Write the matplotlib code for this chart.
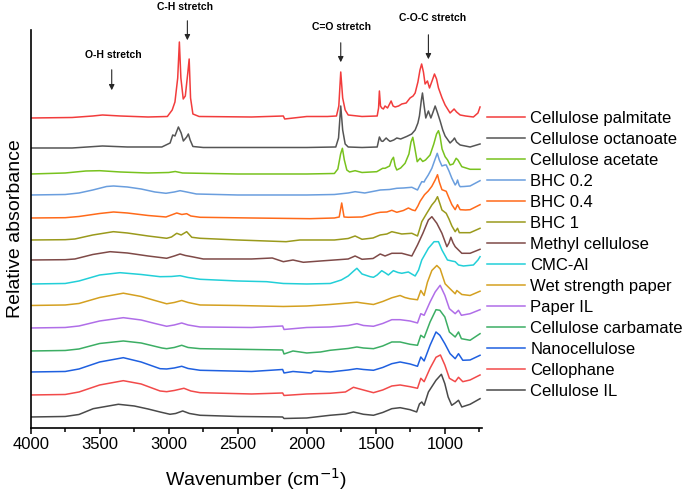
import matplotlib.pyplot as plt
from matplotlib.ticker import MultipleLocator

plt.rcParams['font.family'] = ['Liberation Sans', 'DejaVu Sans']

# FTIR spectra: (wavenumber cm-1, absorbance above own baseline, a.u.)
cellulose_palmitate = [(4000, 0), (3700, 0.5), (3550, 2), (3480, 3), (3350, 2), (3150, 1), (3010, 1.5),
    (2975, 8), (2955, 16), (2935, 40), (2923, 76), (2912, 40), (2895, 19), (2880, 22), (2862, 45),
    (2852, 59), (2842, 20), (2825, 4), (2780, 1.5), (2400, 1), (2170, 2), (2160, -1), (2000, 1.5),
    (1850, 1.5), (1785, 2), (1768, 12), (1754, 46), (1740, 20), (1722, 8), (1700, 3), (1600, 1.5),
    (1490, 2), (1480, 10), (1474, 27), (1466, 12), (1457, 10), (1445, 9), (1433, 12), (1415, 10),
    (1389, 17), (1375, 12), (1360, 11), (1335, 12), (1312, 14), (1280, 15), (1252, 20), (1230, 22),
    (1215, 25), (1195, 36), (1180, 48), (1168, 54), (1155, 46), (1143, 34), (1126, 37), (1111, 30),
    (1090, 38), (1075, 44), (1060, 39), (1046, 30), (1020, 20), (998, 13), (962, 5), (940, 8),
    (933, 9), (915, 6), (889, 3), (850, 2), (793, 1), (760, 5), (745, 11)]
cellulose_octanoate = [(4000, 0), (3700, 0), (3480, 2), (3300, 1), (3050, 1), (2990, 5), (2971, 13),
    (2955, 12), (2930, 21), (2910, 15), (2894, 7), (2870, 11), (2858, 14), (2845, 8), (2825, 1.5),
    (2750, 0.5), (2000, 0.5), (1790, 1), (1770, 10), (1754, 42), (1740, 18), (1722, 4), (1700, 1),
    (1600, 0.5), (1490, 1), (1474, 11), (1460, 7), (1449, 6.6), (1425, 10), (1410, 8), (1397, 6.6),
    (1370, 8), (1348, 10), (1320, 9), (1275, 11.6), (1240, 14), (1215, 18), (1195, 25), (1184, 32),
    (1170, 48), (1162, 55), (1150, 42), (1138, 30), (1119, 37), (1101, 30), (1085, 36), (1070, 42),
    (1055, 36), (1034, 27), (1015, 18), (998, 12), (962, 5), (940, 8), (930, 10), (915, 6),
    (889, 3), (817, 1), (745, 4)]
cellulose_acetate = [(4000, 0), (3750, 1), (3600, 3), (3500, 3.3), (3350, 2), (3150, 1), (3000, 1.5),
    (2953, 2.5), (2900, 1), (2500, 0), (2000, 0), (1800, 0.5), (1775, 5), (1755, 20), (1742, 25.7),
    (1728, 14), (1710, 4), (1690, 2), (1650, 3.3), (1600, 1.5), (1493, 2.3), (1450, 5.7), (1433, 5.7),
    (1400, 8), (1385, 14), (1372, 16.7), (1360, 8), (1348, 4), (1320, 6), (1288, 10.7), (1260, 20),
    (1245, 32), (1232, 36.7), (1220, 28), (1200, 12.3), (1179, 15.7), (1160, 12.5), (1140, 14),
    (1107, 19), (1080, 30), (1060, 40), (1046, 43.3), (1035, 38), (1020, 25), (998, 17.3), (980, 14),
    (962, 9), (940, 10), (918, 15.7), (905, 14), (877, 7.3), (817, 4.7), (745, 4.7)]
bhc_02 = [(4000, 0), (3750, 0.5), (3650, 2), (3550, 5), (3450, 8.5), (3400, 9), (3300, 8), (3200, 6),
    (3100, 3), (3020, 1.7), (2960, 3), (2918, 4.3), (2870, 3), (2800, 1), (2500, 0), (2000, 0),
    (1800, 0.5), (1700, 2), (1650, 3.3), (1580, 2), (1493, 4.3), (1468, 5), (1400, 5.5), (1348, 6.7),
    (1300, 7), (1239, 7.7), (1198, 5), (1180, 10), (1167, 13.3), (1150, 13), (1143, 15), (1120, 20),
    (1094, 26.7), (1070, 36), (1055, 41.7), (1040, 35), (1021, 29), (1000, 30), (990, 30), (970, 24),
    (949, 16.7), (925, 10), (915, 12), (908, 15), (897, 10), (889, 8.3), (860, 8.5), (817, 9), (745, 14.3)]
bhc_04 = [(4000, 0), (3750, 0.3), (3650, 1.5), (3500, 4.5), (3400, 6), (3300, 5), (3150, 2.5),
    (3020, 1), (2942, 5), (2905, 3.5), (2870, 4.3), (2840, 2), (2773, 0.7), (2400, 0), (2100, -0.5),
    (1977, -0.7), (1800, 0), (1765, 1), (1747, 15), (1730, 1), (1700, 0.7), (1600, 1), (1493, 5),
    (1468, 5.7), (1420, 6), (1384, 7.7), (1348, 5.7), (1300, 7.5), (1264, 10), (1235, 8), (1215, 7.3),
    (1195, 12), (1179, 16.7), (1147, 23.3), (1120, 27), (1094, 31.7), (1070, 38), (1053, 43.3),
    (1040, 36), (1021, 28.3), (990, 26.7), (970, 20), (949, 13.3), (925, 8.3), (908, 13.3),
    (889, 8.3), (850, 8), (817, 8.3), (745, 13.3)]
bhc_1 = [(4000, 0), (3750, 0.3), (3680, 1), (3550, 5), (3401, 8.3), (3300, 7), (3150, 4), (3015, 1.7),
    (2980, 3), (2942, 6.7), (2910, 5), (2870, 8.3), (2833, 2.7), (2773, 1.7), (2500, 0), (2150, -1.7),
    (2050, 0), (1800, 0), (1700, 1.5), (1650, 4), (1600, 0.7), (1520, 2), (1468, 5), (1420, 6),
    (1384, 8.3), (1312, 6), (1239, 6.7), (1198, 4), (1180, 12), (1167, 18.3), (1131, 26.7),
    (1094, 35), (1070, 39), (1053, 43.3), (1035, 36), (1021, 30), (990, 26.7), (970, 21), (949, 14),
    (925, 8.3), (908, 11.7), (895, 7.3), (817, 7.3), (745, 11.7)]
methyl_cellulose = [(4000, 0), (3750, 0.3), (3680, 1), (3550, 5.5), (3425, 8.3), (3300, 7), (3150, 4),
    (3015, 1.7), (2960, 4), (2918, 6), (2880, 4.5), (2833, 3.3), (2750, 1), (2400, 1), (2250, 2),
    (2170, -1.7), (2100, 0), (2025, -2.3), (1900, -1), (1800, 0), (1700, 1), (1650, 4), (1600, 0.7),
    (1520, 1.5), (1468, 6), (1433, 4), (1384, 6.7), (1312, 6.7), (1239, 4), (1198, 15), (1159, 26.7),
    (1119, 40), (1094, 43.3), (1058, 36.7), (1021, 26.7), (985, 13.3), (970, 17), (956, 22.7),
    (940, 17), (925, 13.3), (877, 6.7), (817, 6.7), (745, 10.7)]
cmc_al = [(4000, 0), (3750, 0.5), (3650, 3), (3500, 9), (3353, 11.3), (3200, 9.5), (3063, 7.3),
    (2980, 7.5), (2918, 8.3), (2860, 6.5), (2773, 4.7), (2500, 3), (2290, 2.3), (2170, 0.5),
    (2000, 0), (1830, 0.5), (1750, 4), (1700, 8), (1660, 13), (1637, 15.7), (1600, 10), (1541, 7.3),
    (1517, 6.7), (1490, 9), (1457, 13.3), (1430, 11), (1409, 9), (1373, 13.3), (1340, 11.5),
    (1312, 10.7), (1264, 12), (1240, 10), (1215, 8), (1190, 14), (1167, 24), (1119, 35.7),
    (1078, 42.3), (1046, 42.3), (1021, 34), (981, 24), (950, 23), (925, 22.3), (901, 19), (865, 18),
    (793, 19), (760, 24), (745, 27.3)]
wet_strength_paper = [(4000, 0), (3750, 0.5), (3650, 2), (3500, 8), (3329, 12.3), (3200, 9), (3100, 5),
    (3015, 1.7), (2960, 3), (2906, 5), (2860, 3), (2773, 0.5), (2500, 0), (2170, -1), (2000, -0.5),
    (1831, 1), (1700, 2.5), (1637, 3.3), (1600, 2.5), (1517, 1), (1450, 4), (1384, 7.7), (1324, 10),
    (1290, 8), (1252, 6.7), (1198, 5.7), (1174, 15), (1150, 10), (1126, 23.3), (1094, 35), (1058, 40),
    (1034, 36.7), (998, 21.7), (962, 16.7), (925, 11.7), (913, 15), (877, 11), (817, 10), (745, 14.3)]
paper_il = [(4000, 0), (3750, 0.5), (3650, 2), (3500, 7), (3329, 10.3), (3200, 8), (3100, 4.5),
    (3015, 1.7), (2960, 3), (2906, 5), (2860, 3), (2773, 1), (2400, 0.5), (2175, 2), (2165, -1.5),
    (2000, 0.5), (1831, 1), (1700, 2.5), (1637, 4.3), (1590, 2.5), (1517, 1.7), (1450, 4.5),
    (1384, 8.3), (1324, 8.3), (1252, 7), (1198, 5), (1174, 14.3), (1150, 12.7), (1107, 26), (1070, 36),
    (1034, 42.7), (1000, 32.7), (967, 19.3), (925, 14.3), (901, 17.7), (880, 12.7), (817, 14.3), (745, 18.3)]
cellulose_carbamate = [(4000, 0), (3750, 0.5), (3650, 2), (3500, 7.5), (3329, 10), (3200, 8), (3050, 3),
    (3015, 2.3), (2960, 3.5), (2906, 5.7), (2860, 3.5), (2773, 2.3), (2400, 1.5), (2175, 1), (2165, -3),
    (2100, 0), (2000, -2), (1900, -1), (1831, 0.7), (1700, 2.5), (1637, 4), (1590, 3), (1517, 2.3),
    (1450, 5), (1384, 9), (1324, 9), (1252, 6.7), (1198, 5.7), (1174, 15.7), (1150, 13.3), (1107, 29),
    (1064, 41.3), (1036, 40.7), (1000, 34), (967, 19), (925, 14), (901, 19), (880, 12.3), (817, 10.7),
    (745, 17.3)]
nanocellulose = [(4000, 0), (3750, 0.5), (3650, 3), (3500, 10), (3329, 14.3), (3200, 10), (3063, 3.3),
    (3015, 3), (2960, 4), (2906, 5.7), (2860, 3.5), (2773, 1.7), (2400, 0.5), (2175, 2.5), (2165, -1),
    (2100, 0.5), (1970, -1), (1950, 1), (1831, 0), (1700, 2), (1637, 3.3), (1590, 2.5), (1517, 1.7),
    (1450, 4.5), (1384, 8.3), (1324, 10), (1252, 8), (1198, 5.7), (1174, 15), (1150, 11), (1107, 26.7),
    (1064, 40), (1036, 36.7), (1000, 28.3), (962, 18.3), (925, 13.3), (901, 18.3), (870, 11.7),
    (817, 12), (745, 16.7)]
cellophane = [(4000, 0), (3750, 0.5), (3650, 3), (3500, 10), (3329, 14.3), (3200, 11), (3063, 4),
    (3015, 3.3), (2960, 4.5), (2890, 6.7), (2840, 4), (2773, 2.3), (2400, 1), (2175, 2), (2165, -0.5),
    (2000, 1), (1831, 1.7), (1720, 3), (1662, 7.7), (1590, 5), (1517, 2.3), (1450, 5), (1384, 9),
    (1324, 10), (1252, 8.3), (1198, 6.7), (1174, 16.7), (1150, 13.3), (1107, 26.7), (1064, 37.7),
    (1032, 40), (1000, 30), (967, 16.7), (925, 13.3), (901, 17.7), (870, 13.3), (817, 15), (745, 20)]
cellulose_il = [(4000, 0), (3750, 0.5), (3650, 2.5), (3547, 8.3), (3365, 12.7), (3250, 11), (3150, 8),
    (3063, 5), (2991, 2.7), (2950, 3.5), (2899, 6), (2850, 3.5), (2773, 1.7), (2500, 0.5), (2175, 0),
    (2165, -1.5), (2000, -1), (1831, 1.7), (1720, 3), (1662, 5), (1590, 2.7), (1517, 1.7), (1450, 4.5),
    (1384, 8.3), (1324, 9.3), (1252, 7.3), (1204, 5), (1184, 13), (1167, 15), (1150, 11.7), (1119, 25),
    (1064, 36.7), (1025, 42.7), (1000, 33.3), (976, 20), (950, 11.7), (925, 14), (901, 16.7),
    (877, 10), (817, 12.7), (745, 18.3)]

labels = ["Cellulose palmitate", "Cellulose octanoate", "Cellulose acetate", "BHC 0.2", "BHC 0.4",
          "BHC 1", "Methyl cellulose", "CMC-Al", "Wet strength paper", "Paper IL",
          "Cellulose carbamate", "Nanocellulose", "Cellophane", "Cellulose IL"]
spectra = [cellulose_palmitate, cellulose_octanoate, cellulose_acetate, bhc_02, bhc_04, bhc_1,
           methyl_cellulose, cmc_al, wet_strength_paper, paper_il, cellulose_carbamate,
           nanocellulose, cellophane, cellulose_il]
offsets = [310, 280, 254, 233, 210, 188, 168, 144, 122.5, 100, 77, 56, 33, 11]
colors = ["#f23c3c", "#555555", "#78c21e", "#6a9ede", "#ff6a1a", "#9a9a1c", "#7f4a48",
          "#22cfd8", "#d4a020", "#b06ee8", "#3cae64", "#1f60e0", "#f24a4a", "#4a4a4a"]

fig = plt.figure(figsize=(6.85, 4.95), dpi=100)
ax = fig.add_axes([0.0448, 0.1354, 0.659, 0.804])

for spec, off, col, lab in zip(spectra, offsets, colors, labels):
    wn, a = zip(*spec)
    ax.plot(wn, [v + off for v in a], color=col, lw=1.1, label=lab)

ax.set_xlim(4000, 730)
ax.set_ylim(0, 398)
ax.xaxis.set_major_locator(MultipleLocator(500))
ax.xaxis.set_minor_locator(MultipleLocator(250))
ax.set_yticks([])
ax.tick_params(axis='x', which='major', length=4.5, width=1.1, labelsize=12, pad=2)
ax.tick_params(axis='x', which='minor', length=3, width=1.1)
for s in ['top', 'right']:
    ax.spines[s].set_visible(False)
for s in ['left', 'bottom']:
    ax.spines[s].set_linewidth(1.2)

ax.set_xlabel("Wavenumber (cm$^{-1}$)", fontsize=14, labelpad=10)
ax.set_ylabel("Relative absorbance", fontsize=14, labelpad=5)

# band annotations
arrow = dict(arrowstyle='-|>', color='0.15', lw=0.8, mutation_scale=8)
for txt, tx, ty, ax_x, y0, y1 in [("O-H stretch", 3401, 373, 3413, 361, 335),
                                  ("C-H stretch", 2880, 421, 2865, 410, 385),
                                  ("C=O stretch", 1746, 401, 1754, 388, 363),
                                  ("C-O-C stretch", 1090, 410, 1119, 396, 366)]:
    ax.text(tx, ty, txt, ha='center', va='center', fontsize=7.5, fontweight='bold', clip_on=False)
    ax.annotate('', xy=(ax_x, y1), xytext=(ax_x, y0), arrowprops=arrow, annotation_clip=False)

ax.legend(loc='upper left', bbox_to_anchor=(0.711, 0.776), bbox_transform=fig.transFigure,
          frameon=False, fontsize=12, labelspacing=0.36, handlelength=2.3, handletextpad=0.3,
          borderpad=0, borderaxespad=0)

fig.savefig("out.png", dpi=100)
